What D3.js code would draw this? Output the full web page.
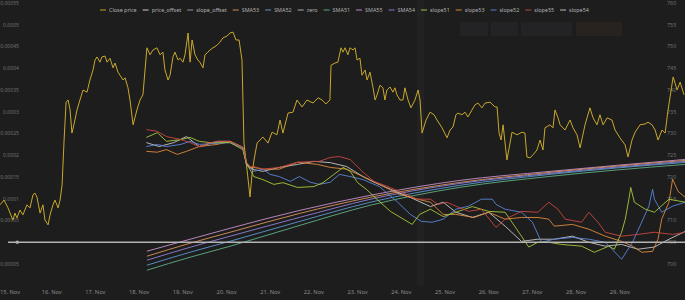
<!DOCTYPE html>
<html>
<head>
<meta charset="utf-8">
<script src="https://cdn.jsdelivr.net/npm/d3@7"></script>
<style>
  body { margin: 0; background: #1d1d1d; }
  svg { display: block; font-family: "Noto Sans", Roboto, sans-serif; }
</style>
</head>
<body>
<svg id="chart" width="685" height="300"></svg>
<script>
const WIDTH = 685;
const HEIGHT = 300;
const START = Date.UTC(2021, 10, 15); // 15 Nov, hours below count from here
const HOUR = 3600 * 1000;
const MICRO = 1e-6; // slope / SMA values are written in millionths

// close price: [hour, price]
const closePrice = [
  [-4.4,713.6],[-2.2,714.7],[0,712.9],[2.7,710.1],[3.8,711.7],[4.9,710.6],[6.6,712.4],[8.2,711.3],[10.4,713.6],[12.1,712.9],
  [13.7,715.9],[14.8,716.3],[15.9,715.4],[17.6,711.7],[19.2,713.6],[20.3,710.1],[22.0,709.0],[23.1,711.3],[24.7,713.6],[25.8,714.7],
  [27.5,712.9],[28.6,714.7],[29.7,718.2],[30.8,728.5],[31.9,737.2],[33.0,737.7],[34.1,735.4],[35.1,730.1],[36.2,732.0],[37.9,735.4],
  [39.5,737.7],[41.2,740.0],[43.4,739.5],[45.0,742.3],[46.7,744.6],[47.8,746.9],[48.9,747.6],[50.5,746.4],[51.6,747.6],[53.3,747.8],
  [54.4,746.4],[56.0,747.3],[57.7,745.1],[58.8,746.2],[60.4,744.1],[61.5,743.4],[63.2,742.3],[64.3,742.8],[65.9,740.5],[67.0,737.7],
  [68.7,732.0],[70.8,735.4],[72.5,737.7],[74.1,738.9],[76.3,749.7],[78.0,748.1],[79.6,749.2],[81.8,749.7],[83.5,748.1],[85.1,748.7],
  [86.2,744.6],[87.9,742.3],[89.0,743.4],[90.6,747.6],[91.7,748.7],[93.4,746.9],[94.5,747.3],[96.1,746.4],[97.2,748.1],[98.9,753.1],
  [100.0,746.4],[101.1,751.5],[102.7,748.1],[104.3,746.9],[105.4,746.4],[107.1,745.1],[108.2,748.1],[109.8,748.7],[110.9,749.2],[112.6,749.7],
  [114.8,750.3],[116.4,751.0],[118.1,752.0],[120.3,752.4],[121.9,753.1],[123.6,753.3],[125.2,751.5],[126.9,751.5],[128.5,746.9],[129.6,727.8],
  [131.3,721.6],[132.9,715.4],[134.0,720.5],[135.1,723.9],[136.8,727.8],[138.4,728.5],[140.0,729.2],[142.8,727.8],[145.0,730.3],[147.7,729.7],
  [149.4,733.1],[151.0,730.1],[153.8,734.7],[156.5,734.9],[158.7,737.7],[161.5,736.1],[164.2,737.7],[167.5,737.0],[170.3,738.2],[172.5,737.7],
  [174.6,736.8],[176.8,737.7],[177.4,745.7],[179.6,746.2],[181.2,746.4],[182.9,749.7],[184.0,748.7],[185.1,749.7],[186.7,748.1],[187.8,749.7],
  [189.5,749.2],[190.6,749.7],[191.7,746.9],[193.3,747.3],[194.4,743.4],[196.1,744.6],[197.2,742.3],[198.8,744.1],[200.5,740.5],[201.6,737.7],
  [202.7,738.9],[204.3,741.1],[205.9,740.5],[207.0,737.7],[208.1,740.0],[209.8,740.7],[211.4,739.5],[212.5,740.5],[213.6,738.9],[215.3,737.7],
  [216.9,737.7],[218.0,740.5],[219.7,737.7],[221.3,735.9],[223.5,737.7],[225.2,740.0],[226.3,737.7],[227.4,730.1],[229.6,733.1],[231.8,734.9],
  [234.0,734.3],[235.6,733.1],[238.4,731.3],[241.1,729.0],[242.8,730.8],[244.4,731.5],[246.0,734.3],[247.1,734.7],[249.3,734.3],[251.0,734.9],
  [252.6,733.8],[254.8,735.4],[256.5,736.6],[258.1,737.0],[260.3,735.9],[262.0,737.0],[264.7,737.2],[267.5,736.1],[268.6,736.1],[269.7,730.1],
  [270.8,728.5],[271.9,732.0],[274.0,723.9],[276.8,730.3],[279.5,729.7],[282.3,730.3],[283.9,730.1],[285.0,724.6],[286.7,724.4],[288.3,725.1],
  [290.5,726.2],[292.2,728.5],[293.8,726.2],[294.9,731.3],[297.7,732.0],[299.3,731.3],[300.4,735.4],[302.1,733.6],[303.2,732.0],[305.9,730.8],
  [308.7,733.1],[310.3,731.3],[312.5,729.7],[314.2,726.7],[316.9,732.0],[319.6,735.9],[321.3,733.6],[323.5,732.0],[325.1,734.3],[326.8,732.0],
  [329.0,733.6],[331.7,733.1],[333.4,730.8],[336.1,729.0],[338.9,727.4],[340.5,724.6],[342.7,728.5],[344.4,730.3],[347.1,732.0],[349.9,732.2],
  [351.5,732.6],[353.7,732.0],[355.4,730.8],[357.0,728.5],[359.2,730.8],[360.9,730.1],[362.5,735.4],[364.2,740.0],[365.3,743.0],[367.5,740.0],
  [369.1,741.8],[371.3,738.9]
];

// moving averages, sampled at the same hours (millionths)
const smaHours = [76.3, 100, 121.9, 160.4, 198.8, 248.2, 297.7, 371.8];
const sma55 = [-20.6, 6.9, 32.1, 73.4, 107.8, 142.2, 162.9, 190.4];
const sma53 = [-32.1, -2.3, 22.9, 66.5, 103.2, 137.6, 160.6, 188.1];
const sma54 = [-41.3, -11.5, 13.8, 57.4, 98.6, 135.3, 158.3, 185.8];
const sma52 = [-52.8, -22.9, 2.3, 48.2, 91.8, 130.8, 156.0, 183.5];
const sma51 = [-64.2, -34.4, -9.2, 39.0, 84.9, 126.2, 151.4, 178.9];

// slopes: [hour, millionths]
const slope55 = [[76,259],[82,255],[87,243],[95,236],[100,229],[105,220],[111,229],[116,232],[122,232],[129,218],[131,184],[133,174],[135,174],[140,168],[149,172],[159,184],[171,186],[177,195],[182,197],[188,190],[195,161],[201,140],[208,129],[215,117],[225,99],[232,99],[236,87],[241,92],[246,83],[253,71],[260,76],[268,34],[273,53],[282,71],[291,69],[297,92],[302,76],[306,53],[315,46],[319,69],[324,46],[328,23],[337,14],[346,18],[355,23],[365,18],[372,23]];
const slope53 = [[76,209],[82,207],[87,213],[93,202],[98,209],[105,220],[115,225],[122,232],[129,218],[131,179],[133,172],[135,172],[140,168],[149,168],[159,184],[170,179],[177,172],[186,168],[195,151],[204,133],[215,110],[225,99],[232,92],[239,64],[246,64],[256,57],[264,69],[273,53],[282,57],[291,57],[297,53],[300,37],[310,41],[319,30],[328,14],[337,2],[343,-9],[348,-23],[354,-21],[357,7],[359,53],[363,92],[365,145],[368,117],[372,103]];
const slope51 = [[76,241],[82,252],[87,232],[95,236],[100,241],[105,232],[111,229],[122,229],[129,213],[131,179],[133,167],[135,151],[140,144],[146,133],[151,137],[159,126],[168,128],[173,137],[179,156],[184,172],[188,163],[192,137],[197,121],[201,105],[210,71],[222,41],[226,64],[232,76],[239,59],[246,69],[255,82],[264,71],[273,69],[282,14],[286,-11],[291,0],[297,0],[304,-5],[315,-9],[322,-23],[330,-9],[333,-16],[337,23],[339,53],[341,99],[342,126],[344,92],[350,76],[355,69],[363,99],[372,92]];
const slope52 = [[76,220],[82,225],[87,220],[95,225],[100,232],[105,225],[122,229],[129,216],[131,179],[133,170],[135,163],[140,168],[144,156],[149,151],[155,140],[160,151],[166,138],[171,133],[177,138],[182,156],[188,151],[195,144],[204,128],[214,92],[221,64],[227,48],[233,46],[239,53],[246,76],[253,83],[260,99],[266,99],[268,87],[273,76],[282,69],[288,46],[293,0],[300,7],[310,11],[319,7],[328,0],[337,-39],[343,0],[348,46],[352,83],[354,122],[355,99],[359,69],[365,83],[372,92]];
const slope54 = [[76,229],[83,220],[91,229],[98,243],[105,220],[115,232],[122,232],[129,218],[131,181],[133,172],[135,167],[140,163],[149,172],[159,179],[168,186],[177,183],[186,174],[195,151],[201,138],[210,122],[221,103],[232,82],[239,92],[246,69],[255,57],[264,69],[273,37],[282,2],[291,7],[300,7],[310,14],[319,0],[328,-9],[337,-5],[346,-16],[355,-11],[363,7],[372,25]];

const zeroHours = [0, 372];

const leftTicks = d3.range(-0.00005, 0.000551, 0.00005);
const rightTicks = d3.range(700, 761, 5);
const lastDayLabel = Date.UTC(2021, 10, 29);

const legendItems = [
  { name: "Close price", color: "#c9a82c" },
  { name: "price_offset", color: "#d0d0d0" },
  { name: "slope_offset", color: "#9a9a9a" },
  { name: "SMA53", color: "#d9925a" },
  { name: "SMA52", color: "#5c97cf" },
  { name: "zero", color: "#b4b4b4" },
  { name: "SMA51", color: "#5fae84" },
  { name: "SMA55", color: "#c58fc9" },
  { name: "SMA54", color: "#8f7fd6" },
  { name: "slope51", color: "#a3c83a" },
  { name: "slope53", color: "#dd8a3c" },
  { name: "slope52", color: "#5b84d6" },
  { name: "slope55", color: "#c9463f" },
  { name: "slope54", color: "#c4c4c4" }
];
const colorOf = name => legendItems.find(d => d.name === name).color;

const toDate = h => new Date(START + h * HOUR);

const svg = d3.select("#chart");
svg.append("rect").attr("width", WIDTH).attr("height", HEIGHT).attr("fill", "#1d1d1d");

// 15 Nov sits at x=8, ~43.7px per day
const x = d3.scaleUtc()
  .domain([toDate(-8 / 43.7 * 24), toDate((WIDTH - 8) / 43.7 * 24)])
  .range([0, WIDTH]);
const yLeft = d3.scaleLinear().domain([-0.00005, 0.00055]).range([264, 3]);
const yRight = d3.scaleLinear().domain([700, 760]).range([264, 3]);

// faint crosshair band and the dim button boxes top right
svg.append("rect").attr("x", 417).attr("y", 0).attr("width", 7).attr("height", 285).attr("fill", "#222222");
const boxes = [[460, 28], [491, 27], [521, 51], [576, 46]];
svg.selectAll("rect.btn").data(boxes).join("rect")
  .attr("class", "btn")
  .attr("x", d => d[0]).attr("y", 22).attr("width", d => d[1]).attr("height", 14)
  .attr("fill", (d, i) => i === 3 ? "#28231f" : "#232325");

// axes labels
svg.append("g").selectAll("text").data(leftTicks).join("text")
  .attr("x", 19).attr("y", d => yLeft(d)).attr("dy", "0.35em")
  .attr("text-anchor", "end").attr("font-size", 5.1).attr("fill", "#6f6f6f")
  .text(d => String(+d.toFixed(5)));

svg.append("g").selectAll("text").data(rightTicks).join("text")
  .attr("x", 667).attr("y", d => yRight(d)).attr("dy", "0.35em")
  .attr("font-size", 5.4).attr("fill", "#6f6f6f")
  .text(d => d);

const fmt = d3.utcFormat("%-d. %b");
const dayTicks = x.ticks(d3.utcDay.every(1)).filter(d => +d <= lastDayLabel);
svg.append("g").selectAll("text").data(dayTicks).join("text")
  .attr("y", 294)
  .attr("font-size", 5.7).attr("fill", "#8a8a8a")
  .text(d => fmt(d))
  .each(function (d) {
    // keep the first label inside the left edge, like the chart does
    const w = this.getComputedTextLength();
    d3.select(this).attr("x", Math.max(0, x(d) - w / 2));
  });

// series
const plot = svg.append("g").attr("fill", "none").attr("stroke-width", 1);

const priceLine = d3.line().x(d => x(toDate(d[0]))).y(d => yRight(d[1]));
const slopeLine = d3.line().x(d => x(toDate(d[0]))).y(d => yLeft(d[1] * MICRO));
const smaLine = d3.line().curve(d3.curveMonotoneX)
  .x((d, i) => x(toDate(smaHours[i]))).y(d => yLeft(d * MICRO));

plot.append("path").datum(closePrice).attr("d", priceLine).attr("stroke", colorOf("Close price"));

const smas = [["SMA55", sma55], ["SMA53", sma53], ["SMA54", sma54], ["SMA52", sma52], ["SMA51", sma51]];
plot.selectAll("path.sma").data(smas).join("path")
  .attr("class", "sma")
  .attr("d", d => smaLine(d[1]))
  .attr("stroke", d => colorOf(d[0])).attr("opacity", 0.9);

const slopes = [["slope54", slope54], ["slope53", slope53], ["slope52", slope52], ["slope51", slope51], ["slope55", slope55]];
plot.selectAll("path.slope").data(slopes).join("path")
  .attr("class", "slope")
  .attr("d", d => slopeLine(d[1]))
  .attr("stroke", d => colorOf(d[0])).attr("opacity", 0.9);

plot.append("line")
  .attr("x1", x(toDate(zeroHours[0]))).attr("x2", x(toDate(zeroHours[1])))
  .attr("y1", yLeft(0)).attr("y2", yLeft(0))
  .attr("stroke", colorOf("zero")).attr("stroke-width", 1.3);
svg.append("circle").attr("cx", x(toDate(5))).attr("cy", yLeft(0)).attr("r", 1.6).attr("fill", colorOf("zero"));

// legend
const legend = svg.append("g").attr("font-size", 5.4);
let lx = 100;
legendItems.forEach(item => {
  legend.append("line")
    .attr("x1", lx).attr("x2", lx + 6).attr("y1", 10).attr("y2", 10)
    .attr("stroke", item.color).attr("stroke-width", 1.2).attr("opacity", 0.8);
  const t = legend.append("text")
    .attr("x", lx + 9).attr("y", 10).attr("dy", "0.35em")
    .attr("fill", "#b0b0b0").text(item.name);
  lx += 9 + t.node().getComputedTextLength() + 6;
});
</script>
</body>
</html>
